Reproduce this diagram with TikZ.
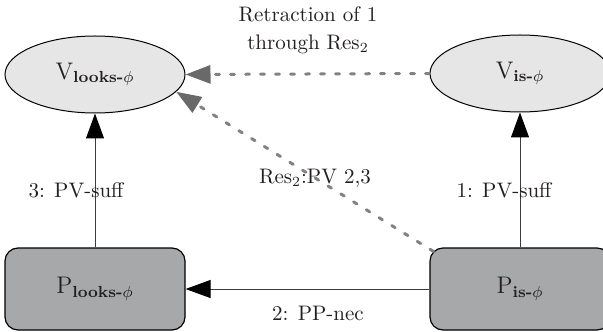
\documentclass[tikz,border=0pt]{standalone}
\usepackage{amsmath}
\usetikzlibrary{arrows.meta,shapes.geometric,calc}
\definecolor{ellfill}{RGB}{230,230,230}
\definecolor{boxfill}{RGB}{167,168,170}
\definecolor{dashgray}{RGB}{130,130,130}
\definecolor{headgray}{RGB}{105,105,105}
\definecolor{txt}{RGB}{35,31,32}
\definecolor{solidline}{RGB}{60,60,60}
\tikzset{
  vnode/.style={ellipse, draw=black, line width=0.5pt, fill=ellfill, minimum width=90pt, minimum height=38.5pt, inner sep=0pt, text=txt, font=\fontsize{12}{14}\selectfont},
  pnode/.style={rectangle, rounded corners=6.5pt, draw=black, line width=0.6pt, fill=boxfill, minimum width=90pt, minimum height=41pt, inner sep=0pt, text=txt, font=\fontsize{12}{14}\selectfont},
  solidarrow/.style={draw=solidline, line width=0.5pt, -{Triangle[length=12.5pt,width=9pt,color=black]}},
  dasharrow/.style={draw=dashgray, line width=1.5pt, line cap=round, dash pattern=on 2pt off 5.5pt, -{Triangle[length=12.5pt,width=9pt,color=headgray,line cap=butt]}},
  lbl/.style={text=txt, font=\fontsize{10.5}{12}\selectfont, inner sep=0pt}
}
\begin{document}
\begin{tikzpicture}[x=0.5pt,y=-0.5pt]
\useasboundingbox (0,0) rectangle (603,331);
\clip (0,0) rectangle (603,331);
\node[vnode] (Vl) at (95,74.5) {$\mathrm{V}_{\textbf{looks-}\phi}$};
\node[vnode] (Vi) at (520,73.5) {$\mathrm{V}_{\textbf{is-}\phi}$};
\node[pnode] (Pl) at (95,289) {$\mathrm{P}_{\textbf{looks-}\phi}$};
\node[pnode] (Pi) at (520,289) {$\mathrm{P}_{\textbf{is-}\phi}$};
\coordinate (Pic) at ($(Pi.north west)+(4,4)$);
\draw[solidarrow] (Pl.north) -- (Vl.south);
\draw[solidarrow] (Pi.north) -- (Vi.south);
\draw[solidarrow] (Pi.west) -- (Pl.east);
\draw[dasharrow] (Vi.west) -- (Vl.east);
\draw[dasharrow] (Pic) -- (Vl.-12.3);
\node[lbl, align=center] (t1) at (308,30) {Retraction of 1\\[2pt]through Res$_2$};
\node[lbl] (t2) at (315,178) {Res$_2$:PV 2,3};
\node[lbl] (t3) at (76,190) {3: PV-suff};
\node[lbl] (t4) at (504,190) {1: PV-suff};
\node[lbl] (t5) at (318,313) {2: PP-nec};
\end{tikzpicture}
\end{document}
